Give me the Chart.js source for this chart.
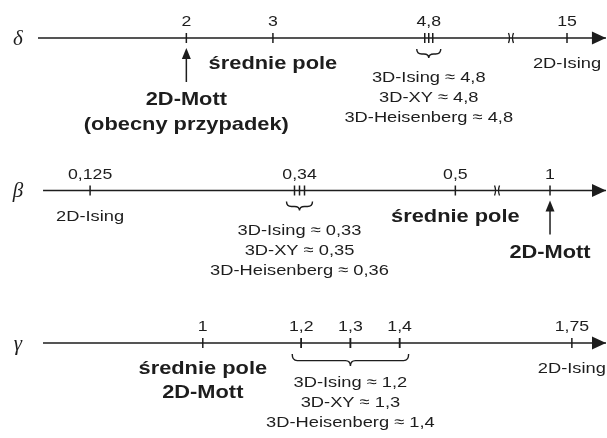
<!DOCTYPE html>
<html>
<head>
<meta charset="utf-8">
<script src="https://cdn.jsdelivr.net/npm/chart.js@4.4.1/dist/chart.umd.min.js"></script>
<style>
  html, body { margin: 0; padding: 0; background: #fff; }
  #wrap { width: 607px; height: 438px; }
</style>
</head>
<body>
<div id="wrap"><canvas id="exponents"></canvas></div>
<script>
// Rows of the diagram (critical exponents)
const rowSymbols = ['δ', 'β', 'γ'];
const models = ['3D-Ising', '3D-XY', '3D-Heisenberg'];

// δ
const deltaTicks = [2, 3, 4.8, 15];
const deltaTickLabels = ['2', '3', '4,8', '15'];
const deltaModelValues = [4.8, 4.8, 4.8];
const deltaModelLabels = ['4,8', '4,8', '4,8'];
const deltaNotes = ['2D-Mott', 'średnie pole', '2D-Ising'];
const deltaNoteAt = [2, 3, 15];

// β
const betaTicks = [0.125, 0.34, 0.5, 1];
const betaTickLabels = ['0,125', '0,34', '0,5', '1'];
const betaModelValues = [0.33, 0.35, 0.36];
const betaModelLabels = ['0,33', '0,35', '0,36'];
const betaNotes = ['2D-Ising', 'średnie pole', '2D-Mott'];
const betaNoteAt = [0.125, 0.5, 1];

// γ
const gammaTicks = [1, 1.2, 1.3, 1.4, 1.75];
const gammaTickLabels = ['1', '1,2', '1,3', '1,4', '1,75'];
const gammaModelValues = [1.2, 1.3, 1.4];
const gammaModelLabels = ['1,2', '1,3', '1,4'];
const gammaNotes = ['średnie pole', '2D-Mott', '2D-Ising'];
const gammaNoteAt = [1, 1, 1.75];

const currentCase = '(obecny przypadek)'; // shown under 2D-Mott on the δ row
const boldNotes = ['2D-Mott', 'średnie pole'];

const ink = '#1d1d1d';
const stretch = 1.18; // the scanned lettering is a bit wide

// hidden axes for each row, with an optional broken segment
const rowAxes = [
  { id: 'xd', min: -0.1525, max: 6.859, breakFrom: 5.75, breakTo: 14.353, from: 0.286, to: 15.45, clusterAt: 4.8, spread: 4 },
  { id: 'xb', min: 0.0325, max: 0.6557, breakFrom: 0.5428, breakTo: 0.9456, from: 0.0767, to: 1.0575, clusterAt: 0.34, spread: 5 },
  { id: 'xg', min: 0.5879, max: 1.8214, from: 0.6753, to: 1.8194 }
];

const rows = [
  { ticks: deltaTicks, tickLabels: deltaTickLabels, modelValues: deltaModelValues, modelLabels: deltaModelLabels, notes: deltaNotes, noteAt: deltaNoteAt, current: true },
  { ticks: betaTicks, tickLabels: betaTickLabels, modelValues: betaModelValues, modelLabels: betaModelLabels, notes: betaNotes, noteAt: betaNoteAt },
  { ticks: gammaTicks, tickLabels: gammaTickLabels, modelValues: gammaModelValues, modelLabels: gammaModelLabels, notes: gammaNotes, noteAt: gammaNoteAt }
];

function disp(axis, v) {
  if (axis.breakFrom !== undefined && v > axis.breakFrom) {
    return axis.breakFrom + (v - axis.breakTo);
  }
  return v;
}

function wideText(ctx, str, x, y, font) {
  ctx.save();
  ctx.font = font;
  ctx.translate(x, y);
  ctx.scale(stretch, 1);
  ctx.fillText(str, 0, 0);
  ctx.restore();
}

function brace(ctx, x0, x1, top, h) {
  const xm = (x0 + x1) / 2;
  const mid = top + h * 0.55;
  const r = Math.min(5, (x1 - x0) / 4);
  ctx.beginPath();
  ctx.moveTo(x0, top);
  ctx.quadraticCurveTo(x0, mid, x0 + r, mid);
  ctx.lineTo(xm - r, mid);
  ctx.quadraticCurveTo(xm, mid, xm, top + h);
  ctx.quadraticCurveTo(xm, mid, xm + r, mid);
  ctx.lineTo(x1 - r, mid);
  ctx.quadraticCurveTo(x1, mid, x1, top);
  ctx.stroke();
}

const diagramPlugin = {
  id: 'diagram',
  afterDatasetsDraw(chart) {
    const ctx = chart.ctx;
    const yScale = chart.scales.y;
    ctx.save();
    ctx.fillStyle = ink;
    ctx.strokeStyle = ink;
    ctx.textAlign = 'center';
    ctx.textBaseline = 'middle';

    rows.forEach((row, r) => {
      const axis = rowAxes[r];
      const xs = chart.scales[axis.id];
      const px = v => xs.getPixelForValue(disp(axis, v));
      const y = yScale.getPixelForValue(r);

      // row symbol
      ctx.font = 'italic 21px "Liberation Serif"';
      ctx.fillText(rowSymbols[r], chart.chartArea.left + 18, y + 1);

      // arrow head at the end of the axis
      const tip = px(axis.to);
      ctx.beginPath();
      ctx.moveTo(tip, y);
      ctx.lineTo(tip - 14, y - 6.5);
      ctx.lineTo(tip - 14, y + 6.5);
      ctx.closePath();
      ctx.fill();

      // break mark
      if (axis.breakFrom !== undefined) {
        const bx = xs.getPixelForValue(axis.breakFrom);
        ctx.lineWidth = 1.3;
        [-1, 1].forEach(d => {
          ctx.beginPath();
          ctx.moveTo(bx + d * 2.5, y - 5);
          ctx.quadraticCurveTo(bx + d * 0.5, y, bx + d * 2.5, y + 5);
          ctx.stroke();
        });
      }

      // tick labels
      row.ticks.forEach((t, i) => {
        wideText(ctx, row.tickLabels[i], px(t), y - 16, '15px "Liberation Sans"');
      });

      // model ticks (clustered when the values are too close)
      let members;
      if (axis.clusterAt !== undefined) {
        const c = px(axis.clusterAt);
        const sorted = row.modelValues.map((v, i) => i).sort((a, b) => row.modelValues[a] - row.modelValues[b]);
        members = sorted.map((k, i) => c + (i - (sorted.length - 1) / 2) * axis.spread);
      } else {
        members = row.modelValues.map(px);
      }
      ctx.lineWidth = 1.5;
      members.forEach(m => {
        ctx.beginPath();
        ctx.moveTo(m, y - 5);
        ctx.lineTo(m, y + 5);
        ctx.stroke();
      });

      // brace under the model ticks
      const pad = axis.clusterAt !== undefined ? 8 : 9;
      const b0 = Math.min(...members) - pad;
      const b1 = Math.max(...members) + pad;
      ctx.lineWidth = 1.4;
      brace(ctx, b0, b1, y + 11, axis.clusterAt !== undefined ? 9 : 12);

      const bc = (b0 + b1) / 2;
      models.forEach((m, i) => {
        wideText(ctx, m + ' ≈ ' + row.modelLabels[i], bc, y + 40 + i * 20, '15.5px "Liberation Sans"');
      });

      // notes under the axis
      const groups = {};
      row.notes.forEach((n, i) => {
        const k = row.noteAt[i];
        (groups[k] = groups[k] || []).push(n);
      });
      Object.keys(groups).forEach(k => {
        const x = px(Number(k));
        const list = groups[k].slice();
        let start = y + 26;
        let step = 24;
        if (list.length === 1 && list[0] === '2D-Mott') {
          // single 2D-Mott gets an arrow pointing at its value
          ctx.lineWidth = 1.5;
          ctx.beginPath();
          ctx.moveTo(x, y + 44);
          ctx.lineTo(x, y + 18);
          ctx.stroke();
          ctx.beginPath();
          ctx.moveTo(x, y + 10);
          ctx.lineTo(x - 4.5, y + 21);
          ctx.lineTo(x + 4.5, y + 21);
          ctx.closePath();
          ctx.fill();
          start = y + 62;
          step = 25;
          if (row.current) list.push(currentCase);
        }
        list.forEach((n, i) => {
          const bold = boldNotes.includes(n) || n === currentCase;
          const font = bold ? 'bold 18.5px "Liberation Sans"' : '15.5px "Liberation Sans"';
          wideText(ctx, n, x, start + i * step, font);
        });
      });
    });
    ctx.restore();
  }
};

// axis lines and simple ticks as datasets
const datasets = [];
rows.forEach((row, r) => {
  const axis = rowAxes[r];
  datasets.push({
    type: 'line',
    xAxisID: axis.id,
    data: [{ x: disp(axis, axis.from), y: r }, { x: disp(axis, axis.to), y: r }],
    borderColor: ink,
    borderWidth: 1.6,
    pointRadius: 0
  });
  datasets.push({
    type: 'scatter',
    xAxisID: axis.id,
    data: row.ticks.filter(t => t !== axis.clusterAt).map(t => ({ x: disp(axis, t), y: r })),
    pointStyle: 'line',
    rotation: 90,
    pointRadius: 5,
    borderWidth: 1.5,
    borderColor: ink
  });
});

const scales = {
  y: { type: 'linear', display: false, reverse: true, min: -0.2492, max: 2.623 }
};
rowAxes.forEach(a => {
  scales[a.id] = { type: 'linear', axis: 'x', position: 'bottom', display: false, min: a.min, max: a.max };
});

new Chart(document.getElementById('exponents'), {
  type: 'scatter',
  data: { datasets: datasets },
  options: {
    responsive: true,
    maintainAspectRatio: false,
    animation: false,
    layout: { padding: 0, autoPadding: false },
    scales: scales,
    plugins: { legend: { display: false }, tooltip: { enabled: false } }
  },
  plugins: [diagramPlugin]
});
</script>
</body>
</html>
